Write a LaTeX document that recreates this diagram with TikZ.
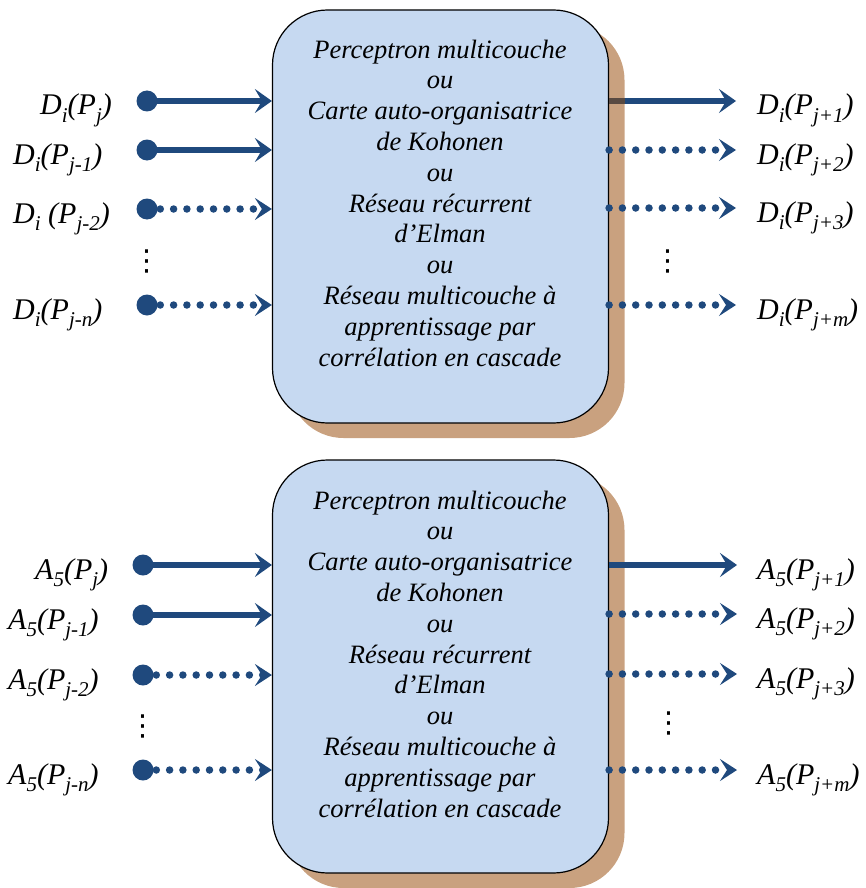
\documentclass[tikz,border=0pt]{standalone}
\usepackage{fontspec}
\setmainfont{Liberation Serif}
\newfontfamily\djv{DejaVu Sans}
\usetikzlibrary{arrows.meta,shadows}
\definecolor{boxfill}{HTML}{C6D9F1}
\definecolor{shade}{HTML}{C9A17F}
\definecolor{arrowc}{HTML}{1F497D}
\definecolor{darkseg}{HTML}{594A42}
\newcommand\sbs[1]{\raisebox{-0.26em}{\fontsize{21}{22}\selectfont #1}}
\begin{document}
\begin{tikzpicture}[x=1pt,y=-1pt,
  netbox/.style={draw=black, line width=1.2pt, fill=boxfill, rounded corners=55pt,
    minimum width=336pt, minimum height=413pt, inner sep=0pt,
    drop shadow={shadow xshift=16pt, shadow yshift=-15pt, fill=shade, opacity=1}},
  boxtext/.style={align=center, inner sep=0pt, font=\fontsize{26.5}{30.8}\selectfont\itshape},
  lab/.style={anchor=base west, inner sep=0pt, font=\fontsize{30}{32}\selectfont\itshape},
  dotnode/.style={circle, fill=arrowc, inner sep=0pt, minimum size=21pt},
  vdot/.style={inner sep=0pt, font=\djv\fontsize{29}{29}\selectfont},
  solidarr/.style={draw=arrowc, line width=5.5pt, -{Stealth[length=17pt,width=24pt,inset=7pt]}},
  dotarr/.style={draw=arrowc, line width=7.5pt, line cap=round, dash pattern=on 0pt off 13.3pt,
    -{Stealth[length=17pt,width=22pt,inset=7pt]}}
]
\useasboundingbox (0,0) rectangle (866,888);

% ---------- top block ----------
\node[netbox] (b1) at (440.5,216.5) {};
\node[boxtext] (t1) at (440,203) {Perceptron multicouche\\ou\\Carte auto-organisatrice\\de Kohonen\\ou\\Réseau récurrent\\d’Elman\\ou\\Réseau multicouche à\\apprentissage par\\corrélation en cascade};

\node[dotnode] (i11) at (147,101) {};
\node[dotnode] (i12) at (147,150) {};
\node[dotnode] (i13) at (147,209) {};
\node[dotnode] (i14) at (147,305) {};
\draw[solidarr] (i11.center) -- (b1.west |- i11);
\draw[solidarr] (i12.center) -- (b1.west |- i12);
\draw[dotarr] (i13.center) -- (b1.west |- i13);
\draw[dotarr] (i14.center) -- (b1.west |- i14);
\node[vdot] (v11) at (147,261) {⋮};

\node[lab] (l11) at (40,115) {D\sbs{i}(P\sbs{j})};
\node[lab] (l12) at (13,164) {D\sbs{i}(P\sbs{j-1})};
\node[lab] (l13) at (13,223) {D\sbs{i} (P\sbs{j-2})};
\node[lab] (l14) at (13,319) {D\sbs{i}(P\sbs{j-n})};

\coordinate (o11) at (736,101);
\coordinate (o12) at (736,150);
\coordinate (o13) at (736,208);
\coordinate (o14) at (736,305);
\draw[solidarr] (b1.east |- o11) -- (o11);
\draw[draw=darkseg, line width=5.5pt] (b1.east |- o11) -- ++(16,0);
\draw[dotarr] (b1.east |- o12) -- (o12);
\draw[dotarr] (b1.east |- o13) -- (o13);
\draw[dotarr] (b1.east |- o14) -- (o14);
\node[vdot] (v12) at (668,261) {⋮};

\node[lab] (r11) at (757,115) {D\sbs{i}(P\sbs{j+1})};
\node[lab] (r12) at (757,164) {D\sbs{i}(P\sbs{j+2})};
\node[lab] (r13) at (757,222) {D\sbs{i}(P\sbs{j+3})};
\node[lab] (r14) at (757,319) {D\sbs{i}(P\sbs{j+m})};

% ---------- bottom block ----------
\node[netbox] (b2) at (440.5,666.5) {};
\node[boxtext] (t2) at (440,654) {Perceptron multicouche\\ou\\Carte auto-organisatrice\\de Kohonen\\ou\\Réseau récurrent\\d’Elman\\ou\\Réseau multicouche à\\apprentissage par\\corrélation en cascade};

\node[dotnode] (i21) at (143,565) {};
\node[dotnode] (i22) at (143,615) {};
\node[dotnode] (i23) at (143,675) {};
\node[dotnode] (i24) at (143,770) {};
\draw[solidarr] (i21.center) -- (b2.west |- i21);
\draw[solidarr] (i22.center) -- (b2.west |- i22);
\draw[dotarr] (i23.center) -- (b2.west |- i23);
\draw[dotarr] (i24.center) -- (b2.west |- i24);
\node[vdot] (v21) at (143,726) {⋮};

\node[lab] (l21) at (35,579) {A\sbs{5}(P\sbs{j})};
\node[lab] (l22) at (8,629) {A\sbs{5}(P\sbs{j-1})};
\node[lab] (l23) at (8,689) {A\sbs{5}(P\sbs{j-2})};
\node[lab] (l24) at (8,784) {A\sbs{5}(P\sbs{j-n})};

\coordinate (o21) at (737,565);
\coordinate (o22) at (737,614);
\coordinate (o23) at (737,674);
\coordinate (o24) at (737,770);
\draw[solidarr] (b2.east |- o21) -- (o21);
\draw[dotarr] (b2.east |- o22) -- (o22);
\draw[dotarr] (b2.east |- o23) -- (o23);
\draw[dotarr] (b2.east |- o24) -- (o24);
\node[vdot] (v22) at (669,723) {⋮};

\node[lab] (r21) at (757,579) {A\sbs{5}(P\sbs{j+1})};
\node[lab] (r22) at (757,628) {A\sbs{5}(P\sbs{j+2})};
\node[lab] (r23) at (757,688) {A\sbs{5}(P\sbs{j+3})};
\node[lab] (r24) at (757,784) {A\sbs{5}(P\sbs{j+m})};
\end{tikzpicture}
\end{document}
